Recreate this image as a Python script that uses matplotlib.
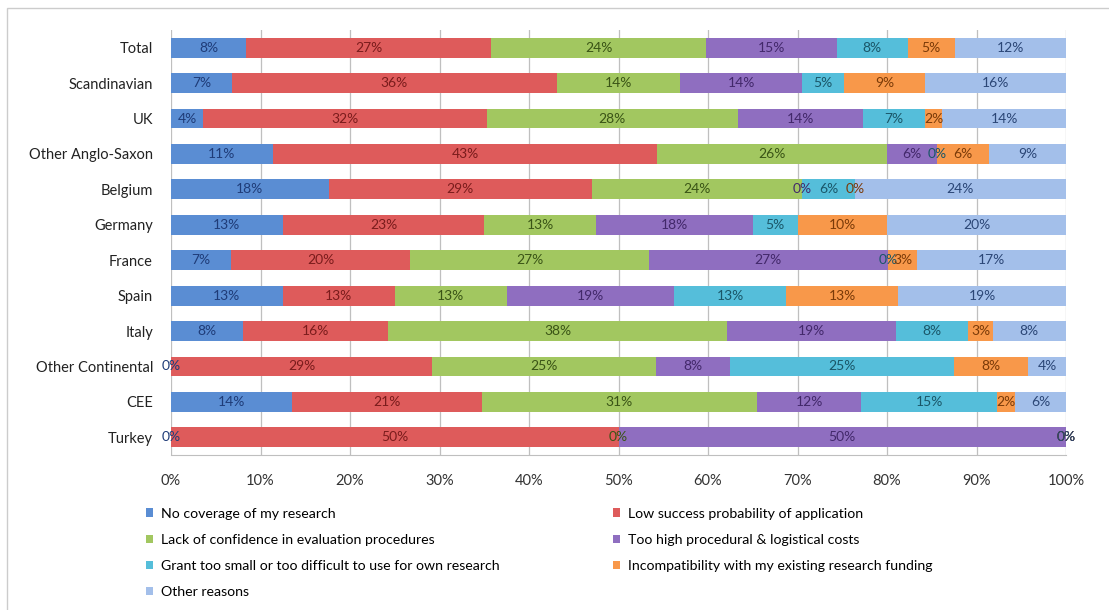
import numpy as np
import matplotlib
matplotlib.use("Agg")
import matplotlib.pyplot as plt
from matplotlib.patches import Patch, Rectangle

plt.rcParams['font.family'] = ['Lato', 'DejaVu Sans']

# Datos (porcentaje por motivo)
categories = ['Total', 'Scandinavian', 'UK', 'Other Anglo-Saxon', 'Belgium', 'Germany',
              'France', 'Spain', 'Italy', 'Other Continental', 'CEE', 'Turkey']

no_coverage = [8.4, 6.8, 3.6, 11.4, 17.6, 12.5, 6.7, 12.5, 8.1, 0, 13.5, 0]
low_success = [27.4, 36.3, 31.7, 42.9, 29.4, 22.5, 20.0, 12.5, 16.2, 29.2, 21.2, 50]
lack_confidence = [24.0, 13.8, 28.0, 25.7, 23.5, 12.5, 26.7, 12.5, 37.8, 25.0, 30.8, 0]
too_high_costs = [14.6, 13.6, 14.0, 5.6, 0, 17.5, 26.7, 18.75, 18.9, 8.3, 11.6, 50]
grant_too_small = [7.9, 4.7, 7.0, 0, 5.9, 5.0, 0, 12.5, 8.1, 25.0, 15.2, 0]
incompatibility = [5.3, 9.0, 1.9, 5.8, 0, 10.0, 3.3, 12.5, 2.7, 8.3, 2.0, 0]
other_reasons = [12.4, 15.8, 13.8, 8.6, 23.6, 20.0, 16.6, 18.75, 8.2, 4.2, 5.7, 0]

series_names = ['No coverage of my research',
                'Low success probability of application',
                'Lack of confidence in evaluation procedures',
                'Too high procedural & logistical costs',
                'Grant too small or too difficult to use for own research',
                'Incompatibility with my existing research funding',
                'Other reasons']
series = [no_coverage, low_success, lack_confidence, too_high_costs,
          grant_too_small, incompatibility, other_reasons]

colors = ['#5A8DD3', '#DE5B5B', '#A2C760', '#8F6EC0', '#55BEDA', '#F8984A', '#A3BFEA']
text_colors = ['#1F3C78', '#7A1C1C', '#3A5416', '#42286A', '#1A5668', '#7A3A08', '#2B4676']

fig = plt.figure(figsize=(11.09, 6.10), dpi=100)
ax = fig.add_axes([171 / 1109, 1 - 455 / 610, 895 / 1109, 425 / 610])

y = np.arange(len(categories))
left = np.zeros(len(categories))
handles = []
for vals, name, col, tcol in zip(series, series_names, colors, text_colors):
    vals = np.array(vals, dtype=float)
    ax.barh(y, vals, left=left, height=0.56, color=col, edgecolor='none', zorder=2)
    for yi, (l, v) in enumerate(zip(left, vals)):
        ax.text(l + v / 2, yi, f"{int(v + 0.5)}%", ha='center', va='center',
                fontsize=10, color=tcol, zorder=3)
    left = left + vals
    handles.append(Patch(facecolor=col, edgecolor='none', label=name))

ax.set_xlim(0, 100)
ax.set_ylim(len(categories) - 0.5, -0.5)
ax.set_xticks(np.arange(0, 101, 10))
ax.set_xticklabels([f"{t}%" for t in range(0, 101, 10)], fontsize=10.5, color='#333333')
ax.set_yticks(y)
ax.set_yticklabels(categories, fontsize=10.5, color='#222222')
ax.tick_params(axis='y', length=0, pad=13)
ax.tick_params(axis='x', length=0, pad=14)
ax.xaxis.grid(True, color='#BFBFBF', linewidth=0.9, zorder=0)
ax.set_axisbelow(True)
for s in ['top', 'right', 'left']:
    ax.spines[s].set_visible(False)
ax.spines['bottom'].set_color('#BFBFBF')

# leyenda en dos columnas colocadas a mano
leg_kw = dict(frameon=False, fontsize=10.2, handlelength=0.55, handleheight=0.55,
              handletextpad=0.5, labelspacing=1.0, borderaxespad=0, loc='upper left')
l1 = fig.legend(handles=handles[0::2], bbox_to_anchor=(140 / 1109, 1 - 502 / 610), **leg_kw)
l2 = fig.legend(handles=handles[1::2], bbox_to_anchor=(607 / 1109, 1 - 502 / 610), **leg_kw)

# marco gris del grafico
fig.patches.append(Rectangle((7 / 1109, -0.05), 1.2, 1 - 8 / 610 + 0.05, transform=fig.transFigure,
                             fill=False, edgecolor='#CCCCCC', linewidth=1))

fig.savefig('out.png', dpi=100)
